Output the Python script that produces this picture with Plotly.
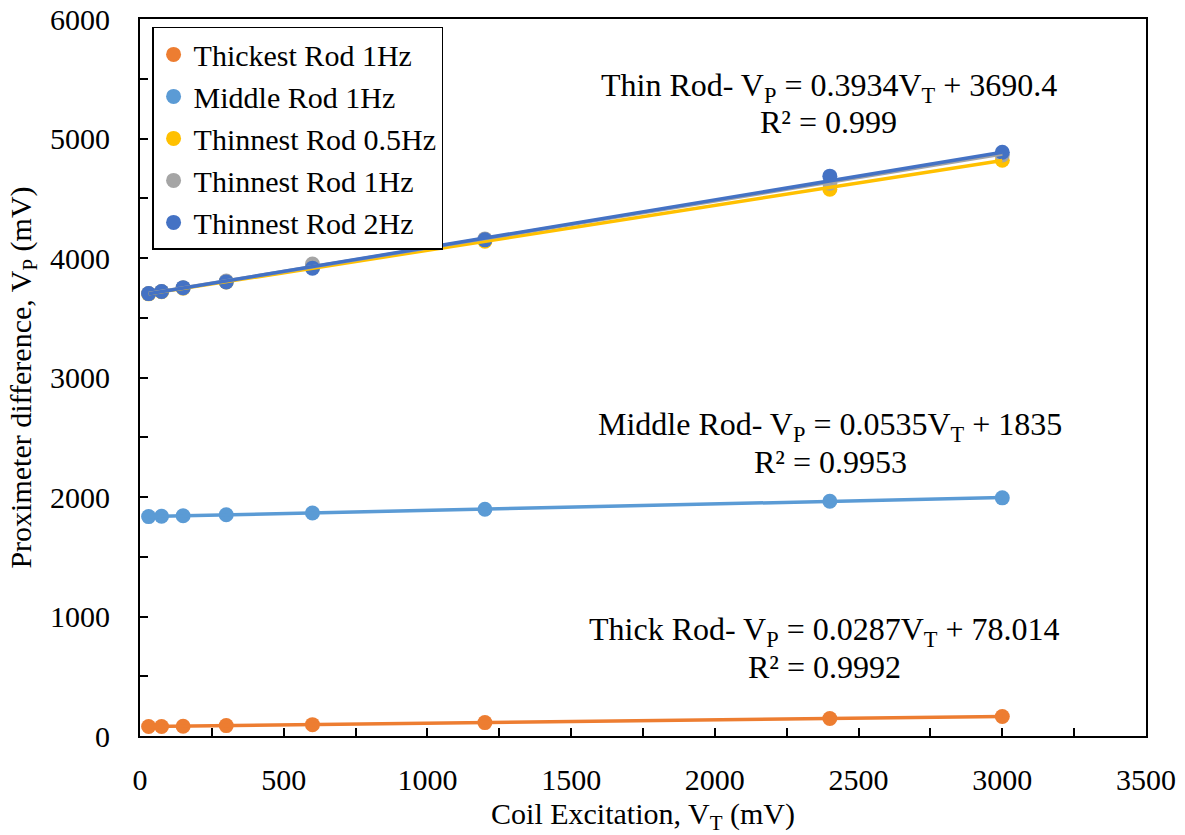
import plotly.graph_objects as go

# Coil excitation levels (mV)
coil_mv = [30, 75, 150, 300, 600, 1200, 2400, 3000]

# Proximeter difference readings (mV) for each rod / frequency
thickest_1hz = [79, 80, 82, 87, 95, 112, 147, 163]
middle_1hz = [1836, 1839, 1843, 1851, 1866, 1898, 1964, 1993]
thinnest_05hz = [3700, 3718, 3748, 3800, 3920, 4140, 4575, 4818]
thinnest_1hz = [3702, 3720, 3750, 3808, 3950, 4160, 4625, 4862]
thinnest_2hz = [3702, 3720, 3752, 3800, 3915, 4152, 4685, 4885]

series_names = ["Thickest Rod 1Hz", "Middle Rod 1Hz", "Thinnest Rod 0.5Hz",
                "Thinnest Rod 1Hz", "Thinnest Rod 2Hz"]
series_values = [thickest_1hz, middle_1hz, thinnest_05hz, thinnest_1hz, thinnest_2hz]
series_colors = ["#ED7D31", "#5B9BD5", "#FFC000", "#A5A5A5", "#4472C4"]

# Axis tick values
x_ticks = [0, 500, 1000, 1500, 2000, 2500, 3000, 3500]
y_ticks = [0, 1000, 2000, 3000, 4000, 5000, 6000]

# Linear trendline coefficients (slope, intercept) per series
trend_slopes = [0.0287, 0.0535, 0.3755, 0.3934, 0.3985]
trend_intercepts = [78.014, 1835.0, 3689.0, 3690.4, 3689.0]
trend_r2 = [0.9992, 0.9953, None, 0.999, None]

FONT = "Liberation Serif"


def serif(text):
    # wrap text in a span that pins the serif face
    return f"<span style=\"font-family:'{FONT}'\">{text}</span>"


fig = go.Figure()

# data markers first, trendlines drawn over them
for name, vals, col in zip(series_names, series_values, series_colors):
    fig.add_trace(go.Scatter(
        x=coil_mv, y=vals, mode="markers", name=name,
        marker=dict(color=col, size=15),
    ))

x0, x1 = coil_mv[0], coil_mv[-1]
for m, b, col in zip(trend_slopes, trend_intercepts, series_colors):
    fig.add_trace(go.Scatter(
        x=[x0, x1], y=[m * x0 + b, m * x1 + b], mode="lines",
        line=dict(color=col, width=3.5), showlegend=False, hoverinfo="skip",
    ))


def eq_text(label, m, b):
    return f"{label}- V<sub>P</sub> = {m:g}V<sub>T</sub> + {b:g}"


# (series index, label, x, y of equation line, y of R² line)
labels = [
    (3, "Thin Rod", 2396, 5430, 5140),
    (1, "Middle Rod", 2402, 2590, 2297),
    (0, "Thick Rod", 2383, 873, 580),
]
for idx, lab, xa, ye, yr in labels:
    fig.add_annotation(x=xa, y=ye, text=eq_text(lab, trend_slopes[idx], trend_intercepts[idx]),
                       showarrow=False, font=dict(family=FONT, size=32, color="black"),
                       xanchor="center", yanchor="middle")
    fig.add_annotation(x=xa, y=yr, text=f"R² = {trend_r2[idx]:g}",
                       showarrow=False, font=dict(family=FONT, size=32, color="black"),
                       xanchor="center", yanchor="middle")

axis_common = dict(
    showline=True, linecolor="black", linewidth=2, mirror=True,
    ticks="inside", ticklen=8, tickwidth=1.5, tickcolor="black",
    showgrid=False, zeroline=False, automargin=False,
    tickfont=dict(family=FONT, size=30, color="black"),
)

fig.update_xaxes(
    range=[0, 3500], tickmode="array",
    tickvals=x_ticks, ticktext=[serif(v) for v in x_ticks],
    minor=dict(ticks="inside", dtick=250, ticklen=8, tickwidth=1.5, tickcolor="black"),
    title=dict(text=serif("Coil Excitation, V<sub>T</sub> (mV)"),
               font=dict(family=FONT, size=30, color="black"), standoff=12),
    ticklabelstandoff=16,
    **axis_common,
)
fig.update_yaxes(
    range=[0, 6000], tickmode="array",
    tickvals=y_ticks, ticktext=[serif(v) for v in y_ticks],
    minor=dict(ticks="inside", dtick=500, ticklen=8, tickwidth=1.5, tickcolor="black"),
    title=dict(text=serif("Proximeter difference, V<sub>P</sub> (mV)"),
               font=dict(family=FONT, size=30, color="black"), standoff=10),
    ticklabelstandoff=22,
    **axis_common,
)

fig.update_layout(
    width=1185, height=835,
    margin=dict(l=140, r=39, t=19, b=99),
    paper_bgcolor="white", plot_bgcolor="white",
    font=dict(family=FONT, size=30, color="black"),
    legend=dict(
        x=0.012, y=0.989, xanchor="left", yanchor="top",
        bordercolor="black", borderwidth=1.5, bgcolor="white",
        font=dict(family=FONT, size=30, color="black"),
        itemwidth=30, tracegroupgap=0,
    ),
    showlegend=True,
)

fig.write_html("out.html")
